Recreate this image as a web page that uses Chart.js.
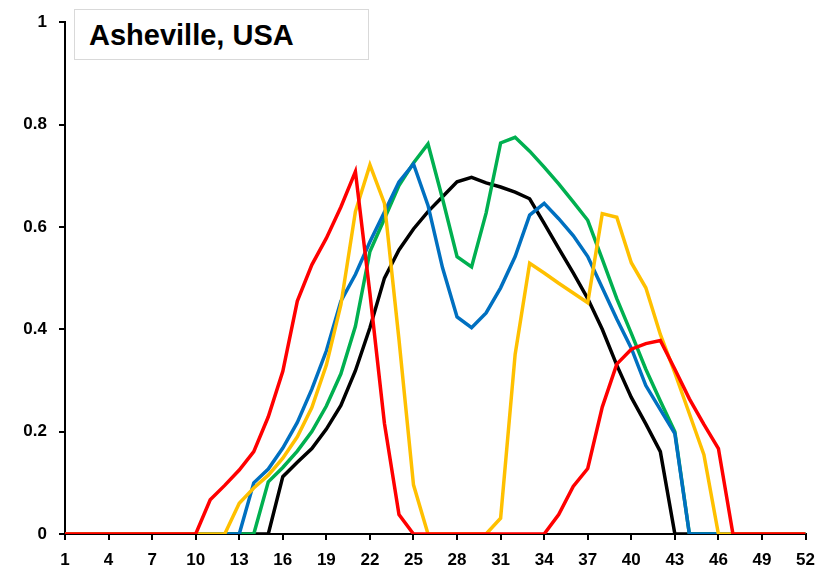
<!DOCTYPE html>
<html>
<head>
<meta charset="utf-8">
<script src="https://cdn.jsdelivr.net/npm/chart.js@4.4.1/dist/chart.umd.min.js"></script>
<style>
  html, body { margin: 0; padding: 0; background: #ffffff; }
  #wrap { position: relative; width: 825px; height: 575px; }
  #c { position: absolute; left: 0; top: 0; }
  #label {
    position: absolute; left: 74px; top: 9px; width: 295px; height: 51px;
    border: 1px solid #d9d9d9; background: #ffffff; box-sizing: border-box;
  }
  #label span {
    position: absolute; left: 14px; top: 11px;
    font-family: "Liberation Sans", Arial, sans-serif; font-weight: bold;
    font-size: 29px; line-height: 29px; color: #000000; white-space: nowrap;
  }
</style>
</head>
<body>
<div id="wrap">
  <canvas id="c" width="825" height="575"></canvas>
  <div id="label"><span>Asheville, USA</span></div>
</div>
<script>
// Week numbers (x categories)
const weeks = Array.from({length: 52}, (_, i) => i + 1);

// Series values (weeks 1..52)
const blackSeries = [0,0,0,0,0,0,0,0,0,0, 0,0,0,0,0,
  0.112,0.14,0.167,0.205,0.251, 0.319,0.403,0.50,0.555,0.596,
  0.63,0.659,0.688,0.697,0.686, 0.678,0.668,0.655,0.607,0.558,
  0.51,0.46,0.40,0.33,0.267, 0.215,0.161,0,
  0,0,0,0,0,0,0,0,0];

const greenSeries = [0,0,0,0,0,0,0,0,0,0,0,0,0,0,
  0.102,0.13,0.162,0.2,0.25,0.313,
  0.406,0.552,0.616,0.681,0.725,
  0.762,0.655,0.542,0.522,0.627,
  0.764,0.775,0.748,0.717,0.684,
  0.649,0.613,0.537,0.46,0.392,
  0.322,0.26,0.2,
  0,0,0,0,0,0,0,0,0];

const blueSeries = [0,0,0,0,0,0,0,0,0,0,0,0,0,
  0.1,0.127,0.168,0.218,0.283,0.358,0.455,
  0.507,0.571,0.629,0.688,0.723,
  0.642,0.52,0.424,0.403,0.432,
  0.481,0.542,0.623,0.646,0.616,
  0.583,0.542,0.481,0.42,0.363,
  0.29,0.243,0.196,
  0,0,0,0,0,0,0,0,0];

const yellowSeries = [0,0,0,0,0,0,0,0,0,0,0,0,
  0.06,0.09,0.115,0.148,0.19,0.247,0.33,0.448,
  0.63,0.721,0.646,0.38,0.096,
  0,0,0,0,0,
  0.031,0.351,0.529,0.51,0.49,
  0.471,0.452,0.626,0.619,0.53,
  0.481,0.39,0.315,0.235,0.155,
  0,0,0,0,0,0,0];

const redSeries = [0,0,0,0,0,0,0,0,0,0,
  0.067,0.095,0.125,0.161,0.229,
  0.318,0.455,0.526,0.578,0.639,
  0.708,0.47,0.216,0.038,0,
  0,0,0,0,0,
  0,0,0,0,0.038,
  0.093,0.128,0.248,0.332,0.361,
  0.372,0.378,0.322,0.264,0.214,0.167,
  0,0,0,0,0,0];

// Tick settings
const xTickStart = 1, xTickEnd = 52, xTickStep = 3;
const yTickLabels = ['0', '0.2', '0.4', '0.6', '0.8', '1'];

const toPoints = vals => weeks.map((w, i) => ({x: w, y: vals[i]}));

const tickFont = { family: '"Liberation Sans", Arial, sans-serif', size: 17, weight: 'bold' };

const mk = (vals, color) => ({
  data: toPoints(vals),
  borderColor: color,
  backgroundColor: color,
  borderWidth: 3.5,
  pointRadius: 0,
  tension: 0,
  fill: false
});

new Chart(document.getElementById('c'), {
  type: 'line',
  data: {
    datasets: [
      mk(redSeries, '#FF0000'),
      mk(yellowSeries, '#FFC000'),
      mk(blueSeries, '#0070C0'),
      mk(greenSeries, '#00B050'),
      mk(blackSeries, '#000000')
    ]
  },
  options: {
    responsive: false,
    animation: false,
    devicePixelRatio: 1,
    layout: { padding: { left: 0, right: 16, top: 18.5, bottom: 0 } },
    plugins: { legend: { display: false }, tooltip: { enabled: false }, title: { display: false } },
    scales: {
      x: {
        type: 'linear',
        min: xTickStart,
        max: xTickEnd,
        ticks: {
          stepSize: xTickStep,
          autoSkip: false,
          maxRotation: 0,
          color: '#000000',
          font: tickFont,
          padding: 10
        },
        grid: { display: true, drawOnChartArea: false, drawTicks: true, tickLength: 6, color: '#000000', lineWidth: 2 },
        border: { display: true, color: '#000000', width: 2 },
        afterFit: s => { s.height = 41; }
      },
      y: {
        type: 'linear',
        min: 0,
        max: 1,
        ticks: {
          stepSize: 0.2,
          color: '#000000',
          font: tickFont,
          padding: 12,
          callback: (v) => yTickLabels[Math.round(v * 5)]
        },
        grid: { display: true, drawOnChartArea: false, drawTicks: true, tickLength: 6, color: '#000000', lineWidth: 2 },
        border: { display: true, color: '#000000', width: 2 },
        afterFit: s => { s.width = 65; }
      }
    }
  }
});
</script>
</body>
</html>
